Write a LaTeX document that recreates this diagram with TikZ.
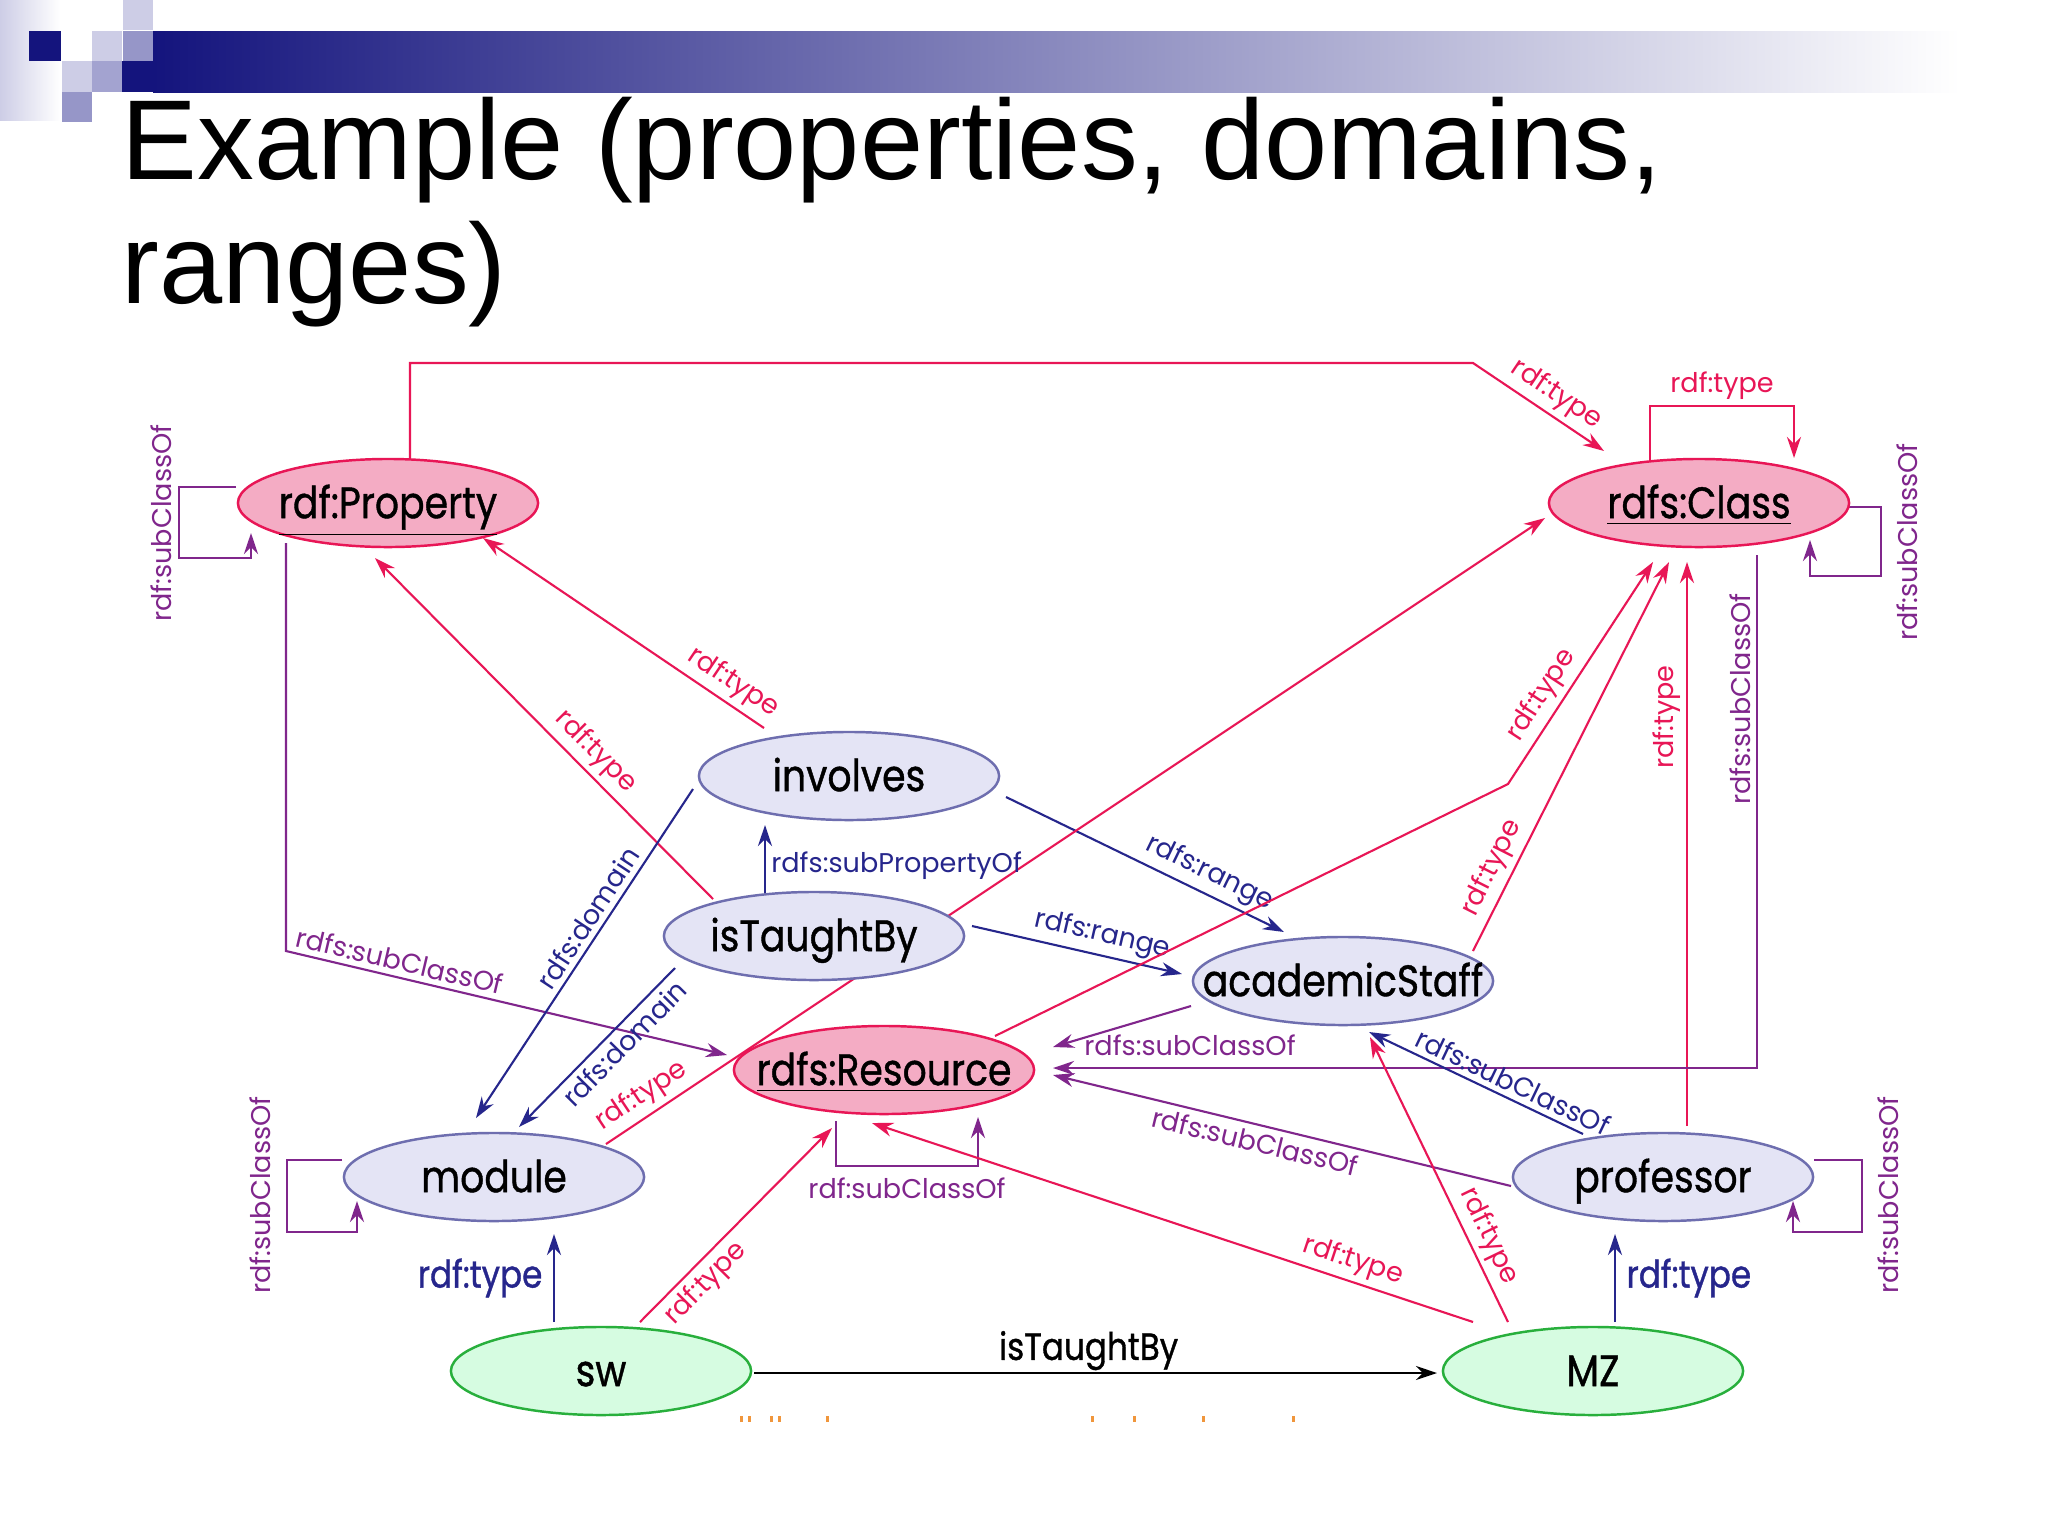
\documentclass[tikz,border=0pt]{standalone}
\usepackage{fontspec}
\setmainfont{Poppins}
\newfontfamily\nodefont[FakeBold=1.0]{Poppins}
\newfontfamily\titlefont{Liberation Sans}
\usetikzlibrary{arrows.meta,shapes.geometric}
\pgfdeclarelayer{back}
\pgfdeclarelayer{bg}
\pgfsetlayers{back,bg,main}
\definecolor{cred}{RGB}{232,22,86}
\definecolor{cpur}{RGB}{128,38,140}
\definecolor{cblu}{RGB}{38,38,140}
\definecolor{pinkfill}{RGB}{244,172,196}
\definecolor{lavfill}{RGB}{228,228,245}
\definecolor{lavedge}{RGB}{110,110,175}
\definecolor{grnfill}{RGB}{214,252,225}
\definecolor{grnedge}{RGB}{40,175,60}
\definecolor{navy}{RGB}{20,20,125}
\definecolor{lav1}{RGB}{205,205,230}
\definecolor{lav2}{RGB}{150,150,200}
\definecolor{barmid}{RGB}{160,160,180}
\definecolor{orng}{RGB}{240,150,60}
\newcommand\cnd[1]{\scalebox{0.86}[1]{#1}}
\begin{document}
\begin{tikzpicture}[x=0.01cm,y=-0.01cm,
  ell/.style={ellipse, line width=0.7pt, minimum width=3cm, minimum height=0.88cm, inner sep=0pt,
    text height=11.6pt, text depth=3pt,
    font=\nodefont\fontsize{12.5}{14}\selectfont},
  pinknode/.style={ell, draw=cred, fill=pinkfill},
  lavnode/.style={ell, draw=lavedge, fill=lavfill},
  grnnode/.style={ell, draw=grnedge, fill=grnfill},
  ar/.style={line width=0.6pt, -{Stealth[length=6pt,width=4pt]}},
  rl/.style={ar, draw=cred},
  pl/.style={ar, draw=cpur},
  bl/.style={ar, draw=cblu},
  kl/.style={ar, draw=black},
  lbl/.style={font=\fontsize{7.7}{9}\selectfont, inner sep=1.5pt},
  lr/.style={lbl, text=cred},
  lp/.style={lbl, text=cpur},
  lb/.style={lbl, text=cblu},
  lbig/.style={font=\nodefont\fontsize{10.8}{12}\selectfont, inner sep=3pt},
]
\useasboundingbox (0,0) rectangle (2048,1536);
\begin{pgfonlayer}{back}
\fill[white] (0,0) rectangle (2048,1536);
% slide decoration
\shade[left color=lav1, right color=white] (0,0) rectangle (60,120);
\shade[left color=navy, middle color=barmid, right color=white] (153,31) rectangle (1960,92);
\fill[navy] (29,31) rectangle (61,61);
\fill[lav1] (92,31) rectangle (122,61);
\fill[lav1] (123,0) rectangle (153,30);
\fill[lav2] (123,31) rectangle (153,61);
\fill[lav1] (62,61) rectangle (92,92);
\fill[lav2!110!navy] (92,61) rectangle (122,92);
\fill[navy] (122,61) rectangle (153,92);
\fill[lav2] (62,92) rectangle (92,122);
\end{pgfonlayer}

% title
\node[anchor=base west, inner sep=0pt, font=\titlefont\fontsize{32.3}{36}\selectfont] (t1) at (121,179) {Example (properties, domains,};
\node[anchor=base west, inner sep=0pt, font=\titlefont\fontsize{32.3}{36}\selectfont] (t2) at (121,303) {ranges)};

% nodes
\node[pinknode] (prop) at (388,503) {\makebox[0pt]{\cnd{\underline{rdf:Property}}}};
\node[pinknode] (cls) at (1699,503) {\makebox[0pt]{\cnd{\underline{rdfs:Class}}}};
\node[lavnode] (inv) at (849,776) {\makebox[0pt]{\cnd{involves}}};
\node[lavnode] (itb) at (814,936) {\makebox[0pt]{\cnd{isTaughtBy}}};
\node[lavnode] (acad) at (1343,981) {\makebox[0pt]{\cnd{academicStaff}}};
\node[pinknode] (res) at (884,1070) {\makebox[0pt]{\cnd{\underline{rdfs:Resource}}}};
\node[lavnode] (mod) at (494,1177) {\makebox[0pt]{\cnd{module}}};
\node[lavnode] (prof) at (1663,1177) {\makebox[0pt]{\cnd{professor}}};
\node[grnnode] (sw) at (601,1371) {\makebox[0pt]{\cnd{sw}}};
\node[grnnode] (mz) at (1593,1371) {\makebox[0pt]{\cnd{MZ}}};

\begin{pgfonlayer}{bg}
% rdf:Property -> rdfs:Class (top)
\draw[rl] ([shift={(22,-43)}]prop.center) -- ++(0,-97) -- (1473,363)
  -- node[lr, sloped, above, pos=0.55] (l1) {rdf:type} ([shift={(-95,-52)}]cls.center);
% rdfs:Class self rdf:type
\draw[rl] ([shift={(-49,-43)}]cls.center) -- ++(0,-54) -- node[lr, above] (l2) {rdf:type} ++(144,0) -- ([shift={(95,-45)}]cls.center);
% rdfs:Class self subClassOf
\draw[pl] ([shift={(150,4)}]cls.center) -- ++(32,0) -- ++(0,69) -- ++(-71,0) -- ([shift={(111,37)}]cls.center);
% rdf:Property self subClassOf
\draw[pl] ([shift={(-152,-16)}]prop.center) -- ++(-57,0) -- ++(0,71) -- ++(72,0) -- ([shift={(-137,30)}]prop.center);
% involves -> rdf:Property
\draw[rl] ([shift={(-85,-48)}]inv.center) -- node[lr, sloped, above, pos=0.15] (l5) {rdf:type} ([shift={(95,35)}]prop.center);
% isTaughtBy -> rdf:Property
\draw[rl] ([shift={(-101,-37)}]itb.center) -- node[lr, sloped, above, pos=0.39] (l6) {rdf:type} ([shift={(-13,55)}]prop.center);
% rdf:Property -> rdfs:Resource
\draw[pl] ([shift={(-102,40)}]prop.center) -- ++(0,408)
  -- node[lp, sloped, above, pos=0.25] (l7) {rdfs:subClassOf} ([shift={(-157,-15)}]res.center);
% involves -> module
\draw[bl] ([shift={(-156,13)}]inv.center) -- node[lb, sloped, above, pos=0.42] (l8) {rdfs:domain} ([shift={(-18,-59)}]mod.center);
% isTaughtBy -> module
\draw[bl] ([shift={(-139,32)}]itb.center) -- node[lb, sloped, below, pos=0.40] (l9) {rdfs:domain} ([shift={(25,-50)}]mod.center);
% involves -> academicStaff
\draw[bl] ([shift={(157,21)}]inv.center) -- node[lb, sloped, above, pos=0.70] (l10) {rdfs:range} ([shift={(-59,-49)}]acad.center);
% isTaughtBy -> academicStaff
\draw[bl] ([shift={(158,-10)}]itb.center) -- node[lb, sloped, above, pos=0.6] (l11) {rdfs:range} ([shift={(-161,-7)}]acad.center);
% module -> rdfs:Class
\draw[rl] ([shift={(112,-33)}]mod.center) -- node[lr, sloped, above, pos=0.05] (l12) {rdf:type} ([shift={(-154,15)}]cls.center);
% rdfs:Resource -> rdfs:Class
\draw[rl] ([shift={(111,-34)}]res.center) -- (1508,784)
  -- node[lr, sloped, above, pos=0.35] (l13) {rdf:type} ([shift={(-46,59)}]cls.center);
% academicStaff -> rdfs:Class
\draw[rl] ([shift={(130,-30)}]acad.center) -- node[lr, sloped, above, pos=0.19] (l14) {rdf:type} ([shift={(-30,59)}]cls.center);
% professor -> rdfs:Class
\draw[rl] ([shift={(24,-51)}]prof.center) -- node[lr, sloped, above, pos=0.725] (l15) {rdf:type} ([shift={(-12,59)}]cls.center);
% rdfs:Class -> rdfs:Resource
\draw[pl] ([shift={(58,52)}]cls.center) -- ++(0,513) -- ([shift={(169,-2)}]res.center);
% academicStaff -> rdfs:Resource
\draw[pl] ([shift={(-152,25)}]acad.center) -- ([shift={(169,-23)}]res.center);
% professor -> academicStaff
\draw[bl] ([shift={(-80,-43)}]prof.center) -- node[lb, sloped, above, pos=0.36] (l18) {rdfs:subClassOf} ([shift={(26,51)}]acad.center);
% professor -> rdfs:Resource
\draw[pl] ([shift={(-152,9)}]prof.center) -- node[lp, sloped, below, pos=0.55] (l19) {rdfs:subClassOf} ([shift={(169,5)}]res.center);
% rdfs:Resource self
\draw[pl] ([shift={(-48,51)}]res.center) -- ++(0,45) -- node[lp, below, inner sep=3pt] (l20) {rdf:subClassOf} ++(142,0) -- ([shift={(94,47)}]res.center);
% sw -> module
\draw[bl] ([shift={(-47,-49)}]sw.center) -- node[lbig, text=cblu, left, pos=0.5] (l21) {\cnd{rdf:type}} ([shift={(60,57)}]mod.center);
% sw -> rdfs:Resource
\draw[rl] ([shift={(39,-49)}]sw.center) -- node[lr, sloped, below, pos=0.27] (l22) {rdf:type} ([shift={(-52,58)}]res.center);
% MZ -> rdfs:Resource
\draw[rl] ([shift={(-120,-49)}]mz.center) -- node[lr, sloped, above, pos=0.21] (l23) {rdf:type} ([shift={(-12,53)}]res.center);
% MZ -> academicStaff
\draw[rl] ([shift={(-85,-49)}]mz.center) -- node[lr, sloped, above, pos=0.27] (l24) {rdf:type} ([shift={(27,56)}]acad.center);
% MZ -> professor
\draw[bl] ([shift={(22,-49)}]mz.center) -- node[lbig, text=cblu, right, pos=0.5] (l25) {\cnd{rdf:type}} ([shift={(-48,57)}]prof.center);
% sw -> MZ
\draw[kl] ([shift={(153,2)}]sw.center) -- node[lbig, above, inner sep=0.5pt, pos=0.49] (l26) {\cnd{isTaughtBy}} ([shift={(-156,2)}]mz.center);
% isTaughtBy -> involves
\draw[bl] ([shift={(-49,-41)}]itb.center) -- node[lb, right, pos=0.42] (l27) {rdfs:subPropertyOf} ([shift={(-84,49)}]inv.center);
% module self
\draw[pl] ([shift={(-152,-17)}]mod.center) -- ++(-55,0) -- ++(0,72) -- ++(70,0) -- ([shift={(-137,24)}]mod.center);
% professor self
\draw[pl] ([shift={(151,-17)}]prof.center) -- ++(48,0) -- ++(0,72) -- ++(-69,0) -- ([shift={(130,24)}]prof.center);
\end{pgfonlayer}

% free-standing labels
\node[lp, rotate=90] (l3) at (1907,542) {rdf:subClassOf};
\node[lp, rotate=90] (l4) at (161,523) {rdf:subClassOf};
\node[lp, rotate=90] (l16) at (1740,699) {rdfs:subClassOf};
\node[lp] (l17) at (1190,1045) {rdfs:subClassOf};
\node[lp, rotate=90] (l28) at (260,1195) {rdf:subClassOf};
\node[lp, rotate=90] (l29) at (1888,1195) {rdf:subClassOf};

% clipped remnants of a text line
\foreach \xx in {740,748,770,778,826,1091,1133,1202,1292}
  \fill[orng] (\xx,1416) rectangle ++(3,6);
\end{tikzpicture}
\end{document}
